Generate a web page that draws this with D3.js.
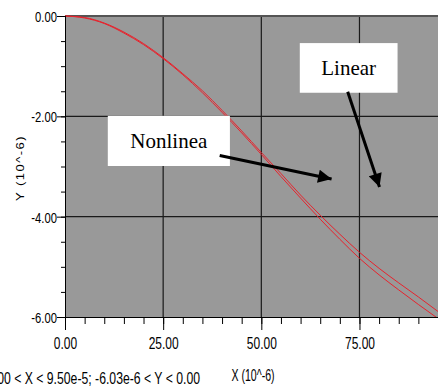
<!DOCTYPE html>
<html>
<head>
<meta charset="utf-8">
<script src="https://cdn.jsdelivr.net/npm/d3@7"></script>
<style>
  html, body { margin: 0; padding: 0; background: #fff; }
  svg { display: block; }
</style>
</head>
<body>
<div id="chart"></div>
<script>
// x en 10^-6, y en 10^-6
var xValeurs = [0, 5, 10, 15, 20, 25, 30, 35, 40, 45, 50, 55, 60, 65, 70, 75, 80, 85, 90, 95];
var yLineaire = [0, -0.04, -0.15, -0.34, -0.57, -0.85, -1.17, -1.53, -1.92, -2.33, -2.76, -3.20, -3.63, -4.05, -4.45, -4.83, -5.16, -5.46, -5.75, -6.03];
var yNonLineaire = [0, -0.03, -0.14, -0.32, -0.55, -0.83, -1.15, -1.49, -1.88, -2.29, -2.72, -3.14, -3.57, -3.97, -4.35, -4.71, -5.03, -5.32, -5.60, -5.89];

var xTicks = [0, 25, 50, 75];
var yTicks = [0, -2, -4, -6];
var xTickLabels = ["0.00", "25.00", "50.00", "75.00"];
var yTickLabels = ["0.00", "-2.00", "-4.00", "-6.00"];

var titreX = "X (10^-6)";
var titreY = "Y (10^-6)";
var resume = "0.00 < X < 9.50e-5; -6.03e-6 < Y < 0.00";

// annotations (en unites du graphique)
var etiquettes = [
    { texte: "Nonlinea", x0: 10.9, x1: 42.0, y0: -1.99, y1: -2.99, fx0: 39.4, fy0: -2.78, fx1: 67.9, fy1: -3.25 },
    { texte: "Linear", x0: 59.8, x1: 84.7, y0: -0.54, y1: -1.53, fx0: 72.0, fy0: -1.51, fx1: 80.1, fy1: -3.41 }
];

var largeur = 438, hauteur = 390;
var gauche = 65, haut = 16, bas = 317, droite = 438;

var svg = d3.select("#chart").append("svg").attr("width", largeur).attr("height", hauteur);

var x = d3.scaleLinear().domain([0, 95]).range([gauche, droite]);
var y = d3.scaleLinear().domain([-6, 0]).range([bas, haut]);

// fond gris
svg.append("rect")
    .attr("x", gauche).attr("y", haut)
    .attr("width", droite - gauche).attr("height", bas - haut)
    .attr("fill", "#999999");

// grille
svg.append("g").selectAll("line").data([25, 50, 75]).enter().append("line")
    .attr("x1", function(d) { return x(d); }).attr("x2", function(d) { return x(d); })
    .attr("y1", haut).attr("y2", bas)
    .attr("stroke", "#1a1a1a").attr("stroke-width", 1.2);
svg.append("g").selectAll("line").data([-2, -4]).enter().append("line")
    .attr("x1", gauche).attr("x2", droite)
    .attr("y1", function(d) { return y(d); }).attr("y2", function(d) { return y(d); })
    .attr("stroke", "#1a1a1a").attr("stroke-width", 1.2);

// bord du haut
svg.append("line")
    .attr("x1", gauche).attr("x2", droite).attr("y1", haut).attr("y2", haut)
    .attr("stroke", "#555").attr("stroke-width", 2);

// courbes
var defs = svg.append("defs");
defs.append("clipPath").attr("id", "zone").append("rect")
    .attr("x", gauche).attr("y", haut - 2).attr("width", droite - gauche).attr("height", bas - haut + 2);

var ligne = d3.line()
    .x(function(d) { return x(d[0]); })
    .y(function(d) { return y(d[1]); })
    .curve(d3.curveMonotoneX);

var series = [yLineaire, yNonLineaire];
svg.append("g").attr("clip-path", "url(#zone)").selectAll("path").data(series).enter().append("path")
    .attr("d", function(s) { return ligne(xValeurs.map(function(v, i) { return [v, s[i]]; })); })
    .attr("fill", "none")
    .attr("stroke", "#e8222c")
    .attr("stroke-width", 1);

// axe X
var axeXMineur = d3.axisBottom(x).tickValues(d3.range(0, 95, 5)).tickSize(7).tickFormat("");
svg.append("g").attr("transform", "translate(0," + bas + ")").call(axeXMineur)
    .call(function(g) { g.select(".domain").remove(); });

var axeX = d3.axisBottom(x).tickValues(xTicks).tickSize(13).tickPadding(0)
    .tickFormat(function(d, i) { return xTickLabels[i]; });
var gx = svg.append("g").attr("transform", "translate(0," + bas + ")").call(axeX);
gx.select(".domain").attr("d", "M" + gauche + ",0.5H" + droite).attr("stroke", "#000");
gx.selectAll(".tick line").attr("stroke", "#000");
gx.selectAll(".tick text")
    .attr("y", 0).attr("dy", null)
    .attr("transform", "translate(0,32) scale(0.75,1)")
    .attr("font-family", "Liberation Sans, Arial, sans-serif")
    .attr("font-size", 16).attr("fill", "#000");

// axe Y
var axeYMineur = d3.axisLeft(y).tickValues(d3.range(-6, 0.01, 0.5)).tickSize(4).tickFormat("");
svg.append("g").attr("transform", "translate(" + gauche + ",0)").call(axeYMineur)
    .call(function(g) { g.select(".domain").remove(); });

var axeY = d3.axisLeft(y).tickValues(yTicks).tickSize(8)
    .tickFormat(function(d, i) { return yTickLabels[i]; });
var gy = svg.append("g").attr("transform", "translate(" + gauche + ",0)").call(axeY);
gy.select(".domain").attr("d", "M0.5," + haut + "V" + bas).attr("stroke", "#000");
gy.selectAll(".tick line").attr("stroke", "#000");
gy.selectAll(".tick text")
    .attr("x", 0).attr("dy", "0.36em")
    .attr("transform", "translate(-8,0) scale(0.75,1)")
    .attr("font-family", "Liberation Sans, Arial, sans-serif")
    .attr("font-size", 15).attr("fill", "#000");

// titres
svg.append("text")
    .attr("transform", "translate(253,381) scale(0.66,1)")
    .attr("text-anchor", "middle")
    .attr("font-family", "Liberation Sans, Arial, sans-serif")
    .attr("font-size", 16)
    .text(titreX);

svg.append("text")
    .attr("transform", "translate(23.5,168) rotate(-90) scale(1,0.85)")
    .attr("text-anchor", "middle")
    .attr("font-family", "Liberation Sans, Arial, sans-serif")
    .attr("font-size", 13)
    .attr("letter-spacing", 1.5)
    .text(titreY);

svg.append("text")
    .attr("transform", "translate(200,384) scale(0.72,1)")
    .attr("text-anchor", "end")
    .attr("font-family", "Liberation Sans, Arial, sans-serif")
    .attr("font-size", 17)
    .text(resume);

// fleches et boites
defs.append("marker").attr("id", "pointe")
    .attr("viewBox", "0 0 10 10").attr("refX", 10).attr("refY", 5)
    .attr("markerWidth", 5.5).attr("markerHeight", 4.5)
    .attr("markerUnits", "strokeWidth")
    .attr("orient", "auto")
    .append("path").attr("d", "M0,0L10,5L0,10Z").attr("fill", "#000");

var ann = svg.append("g").selectAll("g").data(etiquettes).enter().append("g");
ann.append("rect")
    .attr("x", function(d) { return x(d.x0); })
    .attr("y", function(d) { return y(d.y0); })
    .attr("width", function(d) { return x(d.x1) - x(d.x0); })
    .attr("height", function(d) { return y(d.y1) - y(d.y0); })
    .attr("fill", "#fff");
ann.append("text")
    .attr("x", function(d) { return (x(d.x0) + x(d.x1)) / 2; })
    .attr("y", function(d) { return (y(d.y0) + y(d.y1)) / 2; })
    .attr("dy", "0.35em")
    .attr("text-anchor", "middle")
    .attr("font-family", "Liberation Serif, Times New Roman, serif")
    .attr("font-size", 21)
    .attr("fill", "#000")
    .text(function(d) { return d.texte; });
ann.append("line")
    .attr("x1", function(d) { return x(d.fx0); })
    .attr("y1", function(d) { return y(d.fy0); })
    .attr("x2", function(d) { return x(d.fx1); })
    .attr("y2", function(d) { return y(d.fy1); })
    .attr("stroke", "#000").attr("stroke-width", 3)
    .attr("marker-end", "url(#pointe)");
</script>
</body>
</html>
